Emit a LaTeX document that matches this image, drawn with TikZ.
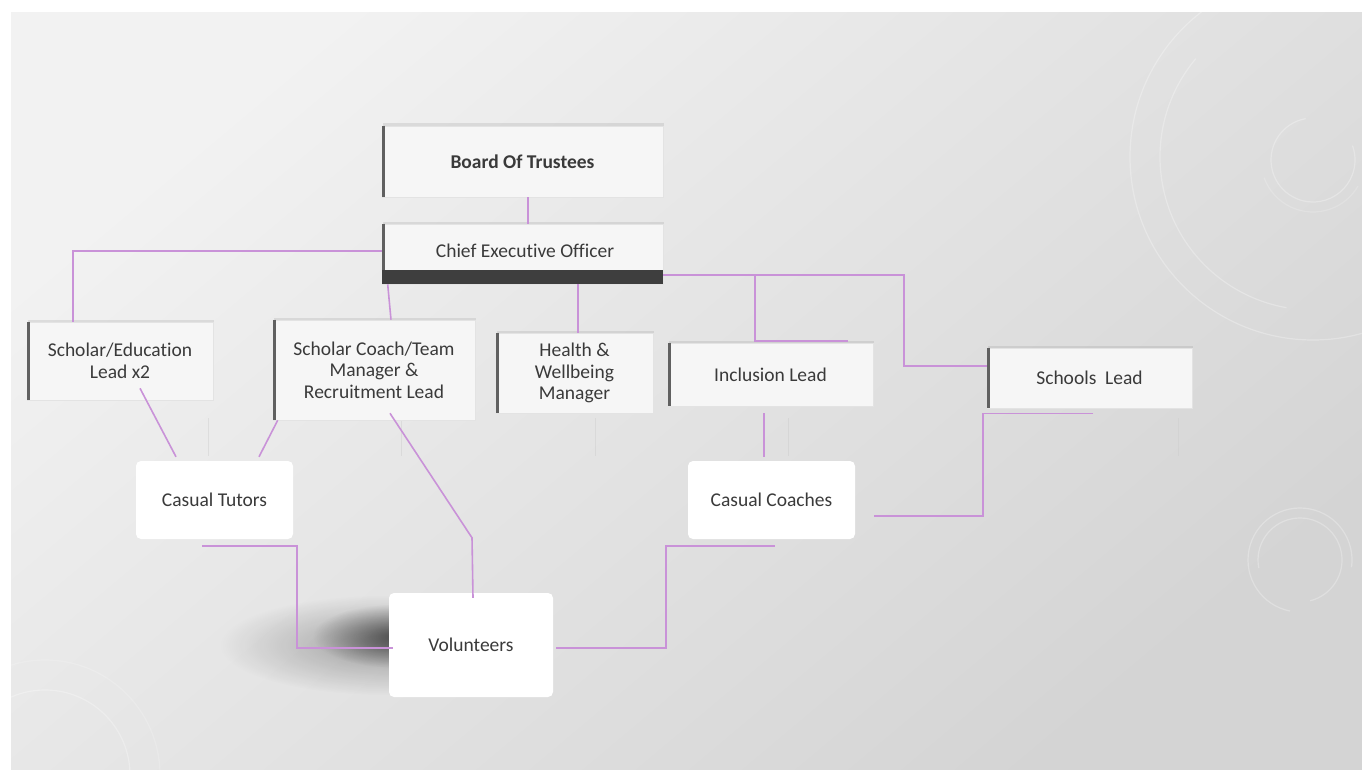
\documentclass[tikz,border=0pt]{standalone}
\usepackage{fontspec}
\setmainfont{Carlito}[Ligatures={NoCommon}]
\usetikzlibrary{calc,shadows,fadings}
\definecolor{conncol}{RGB}{201,146,216}
\definecolor{boxfill}{RGB}{246,246,246}
\definecolor{barcol}{RGB}{96,96,96}
\definecolor{ceobar}{RGB}{62,62,62}
\definecolor{txtcol}{RGB}{58,58,58}
\definecolor{bgA}{RGB}{242,242,242}
\definecolor{bgB}{RGB}{212,212,212}
\tikzfading[name=softblob, inner color=transparent!0, outer color=transparent!100]
\begin{document}
\begin{tikzpicture}[x=1pt,y=-1pt,
  every node/.style={font=\fontsize{19.5}{21.5}\selectfont, text=txtcol, align=center, inner sep=0pt},
  barbox/.style={fill=boxfill, draw=gray!22, line width=0.6pt,
    drop shadow={shadow xshift=1pt, shadow yshift=2.5pt, opacity=0.18}},
  whitebox/.style={fill=white, rounded corners=5pt},
  link/.style={draw=conncol, line width=1.6pt},
  leftbar/.style={draw=barcol, line width=3.5pt},
  deco/.style={draw=white, opacity=0.28, line width=1.2pt},
  faint/.style={draw=gray!40, opacity=0.45, line width=0.7pt},
]
\useasboundingbox (0,0) rectangle (1362,770);
% slide background
\shade[top color=bgA, bottom color=bgB, shading angle=40] (11,13) rectangle (1362,770);

% decorative circles
\begin{scope}
\clip (11,13) rectangle (1362,770);
\draw[deco] (1313,157) circle (183);
\draw[deco] (1313,157) ++(-140:153) arc[start angle=-140, end angle=-260, radius=153];
\draw[deco] (1313,160) ++(-100:42) arc[start angle=-100, end angle=-380, radius=42];
\draw[deco, opacity=0.18] (1313,160) ++(-200:52) arc[start angle=-200, end angle=-330, radius=52];
\draw[deco] (1300,560) ++(-191:42) arc[start angle=-191, end angle=76, radius=42];
\draw[deco] (1300,560) ++(-259:52) arc[start angle=-259, end angle=8, radius=52];
\draw[deco] (45,775) circle (85);
\draw[deco, opacity=0.18] (45,775) circle (115);
\end{scope}

% faint vertical marks
\foreach \x in {208,401,595,788,1178} \draw[faint] (\x,418) -- (\x,456);

% soft shadow near Volunteers
\fill[black, opacity=0.3, path fading=softblob] (385,645) ellipse (165 and 50);
\fill[black, opacity=0.55, path fading=softblob] (398,636) ellipse (85 and 32);

% boxes
\node[barbox, minimum width=281, minimum height=71] (bot) at (522.5,161.5) {\bfseries Board Of Trustees};
\node[barbox, minimum width=281, minimum height=60] (ceo) at (522.5,254) {};
\node (ceotext) at (525,251) {Chief Executive Officer};
\node[barbox, minimum width=186, minimum height=78] (sed) at (120,361) {Scholar/Education\\Lead x2};
\node[barbox, minimum width=202, minimum height=100] (sct) at (374,370) {Scholar Coach/Team\\Manager \&\\Recruitment Lead};
\node[barbox, minimum width=157, minimum height=80] (hwm) at (574.5,373) {Health \&\\Wellbeing\\Manager};
\node[barbox, minimum width=205, minimum height=63] (inc) at (770.5,374.5) {Inclusion Lead};
\node[barbox, minimum width=205, minimum height=60] (sch) at (1089.5,378) {Schools~~Lead};
\node[whitebox, minimum width=157, minimum height=78] (ctu) at (214.5,500) {Casual Tutors};
\node[whitebox, minimum width=167, minimum height=78] (cco) at (771.5,500) {Casual Coaches};
\node[whitebox, minimum width=164, minimum height=104] (vol) at (471,645) {Volunteers};

\foreach \n in {bot,ceo,sed,sct,hwm,inc,sch}
  \draw[leftbar] ($(\n.north west)+(1.75,0)$) -- ($(\n.south west)+(1.75,0)$);
\fill[ceobar] ($(ceo.south west)+(0,-14)$) rectangle (ceo.south east);

% connectors
\draw[link] ($(bot.south)+(5.5,0)$) -- ($(ceo.north)+(5.5,0)$);
\draw[link] ($(ceo.west)+(0,-3)$) -| ($(sed.north)+(-47,0)$);
\draw[link] ($(ceo.south west)+(6,0)$) -- ($(sct.north)+(17,0)$);
\draw[link] ($(ceo.south)+(55.5,0)$) -- ($(hwm.north)+(3.5,0)$);
\draw[link] ($(ceo.east)+(0,21)$) -| ($(inc.north)+(-15.5,-2)$) -- ($(inc.north)+(77.5,-2)$);
\draw[link] ($(ceo.east)+(0,21)$) -| ($(sch.west)+(-83,-12)$) -- ($(sch.west)+(0,-12)$);
\draw[link] ($(sed.south)+(20,-12)$) -- ($(ctu.north)+(-38.5,-4)$);
\draw[link] ($(sct.south west)+(5,0)$) -- ($(ctu.north)+(44.5,-4)$);
\draw[link] ($(sct.south)+(16,-7)$) -- ($(vol.north)+(1,-55)$) -- ($(vol.north)+(2,5)$);
\draw[link] ($(inc.south)+(-6.5,7)$) -- ($(cco.north)+(-7.5,-4)$);
\draw[link] ($(sch.south)+(3.5,5)$) -| ($(cco.east)+(128,16)$) -- ($(cco.east)+(19,16)$);
\draw[link] ($(ctu.south)+(-12.5,7)$) -| ($(vol.west)+(-92,3)$) -- ($(vol.west)+(4,3)$);
\draw[link] ($(vol.east)+(3,3)$) -| ($(cco.south)+(-105.5,7)$) -- ($(cco.south)+(3.5,7)$);
\end{tikzpicture}
\end{document}
